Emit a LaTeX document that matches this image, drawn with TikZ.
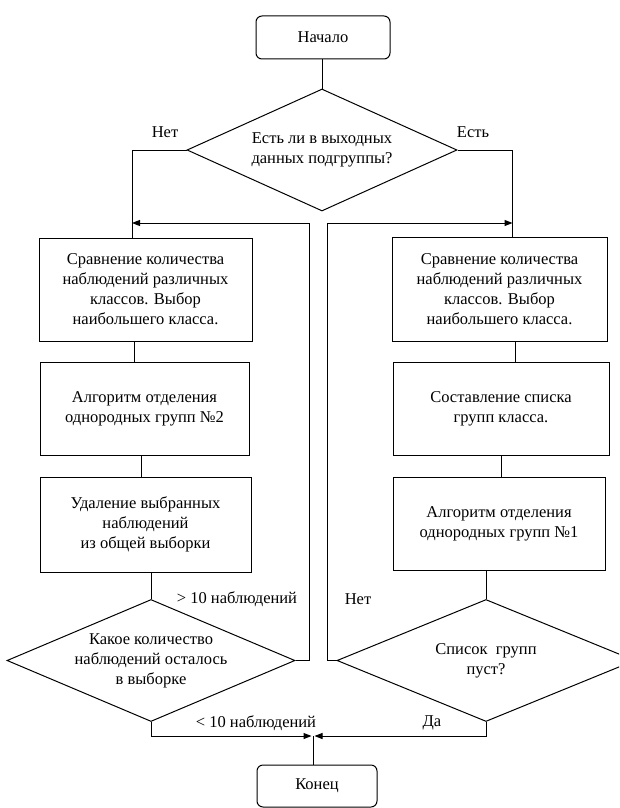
\documentclass[tikz,border=0pt]{standalone}
\usepackage{fontspec}
\setmainfont{Liberation Serif}
\usetikzlibrary{shapes.geometric,arrows.meta}
\begin{document}
\begin{tikzpicture}[x=1pt,y=-1pt,
  every node/.style={font=\fontsize{16.5}{20}\selectfont},
  box/.style={draw,rectangle,align=center,inner sep=0pt,line width=1pt},
  term/.style={box,rounded corners=6pt},
  dec/.style={draw,diamond,align=center,inner sep=0pt,line width=1pt},
  lbl/.style={anchor=base,inner sep=0pt},
  conn/.style={line width=1pt},
  arr/.style={conn,-{Triangle[length=8pt,width=6pt]}}]
\clip (0,0) rectangle (619,808);
\fill[white] (0,0) rectangle (619,808);

% terminals
\node[term,minimum width=134pt,minimum height=43pt] (start) at (323,37.5) {Начало};
\node[term,minimum width=120pt,minimum height=42pt] (end) at (317,786) {Конец};

% decisions
\node[dec,shape aspect=2.21,minimum width=270pt,minimum height=122pt] (d1) at (322,150)
  {Есть ли в выходных\\данных подгруппы?};
\node[dec,shape aspect=2.36,inner sep=-3pt,minimum width=288pt,minimum height=122pt] (d2) at (151,660.5)
  {Какое количество\\наблюдений осталось\\в выборке};
\node[dec,shape aspect=2.44,minimum width=298pt,minimum height=122pt] (d3) at (486,660.5)
  {Список\ \ групп\\пуст?};

% left column
\node[box,minimum width=213pt,minimum height=103pt] (L1) at (145.5,289.5)
  {Сравнение количества\\наблюдений различных\\классов. Выбор\\наибольшего класса.};
\node[box,minimum width=209pt,minimum height=93pt] (L2) at (144.5,408.5)
  {Алгоритм отделения\\однородных групп №2};
\node[box,minimum width=211pt,minimum height=95pt] (L3) at (145.5,524.5)
  {Удаление выбранных\\наблюдений\\из общей выборки};

% right column
\node[box,minimum width=215pt,minimum height=104pt] (R1) at (499.5,289)
  {Сравнение количества\\наблюдений различных\\классов. Выбор\\наибольшего класса.};
\node[box,minimum width=216pt,minimum height=93pt] (R2) at (501,408.5)
  {Составление списка\\групп класса.};
\node[box,minimum width=212pt,minimum height=93pt] (R3) at (499,523.5)
  {Алгоритм отделения\\однородных групп №1};

% connectors
\draw[conn] (start.south -| d1.north) -- (d1.north);
\draw[conn] (d1.west) -| ([xshift=-13.5pt]L1.north);
\draw[conn] (d1.east) -| ([xshift=13pt]R1.north);
\draw[conn] ([xshift=-11.5pt]L1.south) -- ([xshift=-11.5pt]L1.south |- L2.north);
\draw[conn] ([xshift=-3.5pt]L2.south) -- ([xshift=-3.5pt]L2.south |- L3.north);
\draw[conn] (L3.south -| d2.north) -- (d2.north);
\draw[conn] ([xshift=16pt]R1.south) -- ([xshift=16pt]R1.south |- R2.north);
\draw[conn] (R2.south) -- (R2.south |- R3.north);
\draw[conn] (R3.south -| d3.north) -- (d3.north);

\coordinate (jl) at (132,223);
\coordinate (jr) at (512.5,223);
\draw[arr] (d2.east) -- ++(14,0) |- (jl);
\draw[arr] (d3.west) -- ++(-9,0) |- (jr);

\coordinate (m) at (313,736);
\draw[arr] (d2.south) |- ([xshift=-1.5pt]m);
\draw[arr] (d3.south) |- ([xshift=1.5pt]m);
\draw[conn] (m) -- (m |- end.north);

% labels
\node[lbl] (lnet1) at (165,137) {Нет};
\node[lbl] (lest) at (473,137) {Есть};
\node[lbl] (lgt) at (237,603) {> 10 наблюдений};
\node[lbl] (lnet2) at (358,604) {Нет};
\node[lbl] (llt) at (256,727) {< 10 наблюдений};
\node[lbl] (lda) at (432,726) {Да};
\end{tikzpicture}
\end{document}
